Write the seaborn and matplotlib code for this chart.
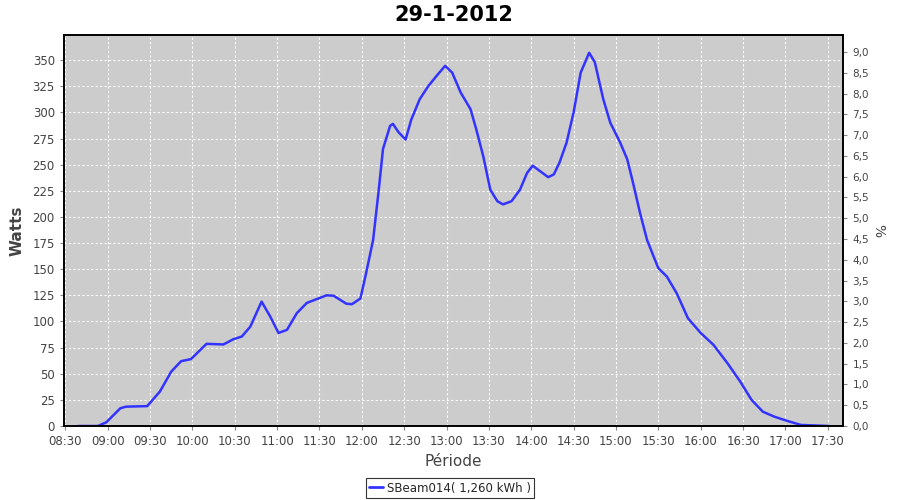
import pandas as pd
import matplotlib
matplotlib.use("Agg")
import matplotlib.pyplot as plt
import matplotlib.dates as mdates
from matplotlib.ticker import FuncFormatter, MultipleLocator
import seaborn as sns

# ----------------------------------------------------------
# Data
# ----------------------------------------------------------

times = [
    "08:39", "08:53", "08:59", "09:09", "09:13", "09:28", "09:37", "09:45",
    "09:52", "09:59", "10:10", "10:22", "10:29", "10:35", "10:41", "10:49",
    "10:55", "11:01", "11:07", "11:14", "11:21", "11:35", "11:40", "11:49",
    "11:53", "11:59", "12:03", "12:08", "12:12", "12:15", "12:20", "12:22",
    "12:26", "12:31", "12:35", "12:41", "12:47", "12:53", "12:59", "13:04",
    "13:10", "13:17", "13:21", "13:26", "13:31", "13:36", "13:40", "13:46",
    "13:52", "13:57", "14:01", "14:06", "14:12", "14:16", "14:20", "14:25",
    "14:30", "14:35", "14:41", "14:45", "14:51", "14:56", "15:03", "15:08",
    "15:12", "15:17", "15:22", "15:27", "15:30", "15:36", "15:43", "15:51",
    "16:00", "16:09", "16:19", "16:28", "16:36", "16:44", "16:52", "17:01",
    "17:11", "17:31",
]
watts = [
    0, 0, 3.5, 17, 18.5, 19, 33, 52,
    62, 64, 78.6, 78, 83, 85.6, 95, 119,
    105, 89, 92, 108, 117.7, 125, 124.6, 117,
    116.5, 122, 146, 178, 226, 265, 287, 289,
    281, 274, 293, 312.6, 325, 335, 344.5, 338,
    319, 303, 284, 258, 226, 215, 212, 215,
    226, 242, 249, 244, 238, 240.7, 252, 271,
    300, 338, 357, 348, 312.6, 290, 271, 255,
    233, 204, 178, 161, 151, 143, 127, 103,
    89, 77.7, 60, 42.5, 25, 13.7, 9, 5,
    1, 0,
]

series_label = "SBeam014( 1,260 kWh )"
title = "29-1-2012"

day = "2012-01-29 "
df = pd.DataFrame({
    "time": pd.to_datetime([day + t for t in times]),
    "watts": watts,
    "serie": series_label,
})

# ----------------------------------------------------------
# Plot
# ----------------------------------------------------------

sns.set_style("white")
plt.rcParams["font.family"] = ["DejaVu Sans"]

fig = plt.figure(figsize=(9, 5), dpi=100)
ax = fig.add_axes([0.071, 0.148, 0.866, 0.782])
ax.set_facecolor("#cccccc")

sns.lineplot(data=df, x="time", y="watts", hue="serie",
             palette=["#3333ff"], linewidth=1.8, ax=ax, legend=False)

ymax = 374
ax.set_xlim(pd.Timestamp(day + "08:29"), pd.Timestamp(day + "17:41"))
ax.set_ylim(0, ymax)
ax.yaxis.set_major_locator(MultipleLocator(25))
ax.xaxis.set_major_locator(mdates.MinuteLocator(byminute=[0, 30]))
ax.xaxis.set_major_formatter(mdates.DateFormatter("%H:%M"))

ax.grid(True, color="white", linestyle=(0, (2, 2)), linewidth=0.8)
for s in ax.spines.values():
    s.set_color("black")
    s.set_linewidth(1.2)

ax.tick_params(axis="both", labelsize=8.5, labelcolor="#444444",
               color="#888888", length=3, direction="out",
               bottom=True, left=True)

ax.set_title(title, fontsize=15, fontweight="bold", color="black", pad=10)
ax.set_xlabel("Période", fontsize=11, color="#444444", labelpad=4)
ax.set_ylabel("Watts", fontsize=11, fontweight="bold", color="#444444", labelpad=6)

ax2 = ax.twinx()
ax2.set_ylim(0, ymax / 39.75)
ax2.yaxis.set_major_locator(MultipleLocator(0.5))
ax2.yaxis.set_major_formatter(FuncFormatter(lambda v, p: f"{v:.1f}".replace(".", ",")))
ax2.tick_params(axis="y", labelsize=7.5, labelcolor="#444444", color="#888888",
                length=3, direction="out", right=True)
ax2.set_ylabel("%", fontsize=10, color="#444444", rotation=270, labelpad=12)
for s in ax2.spines.values():
    s.set_color("black")
    s.set_linewidth(1.2)

handle = plt.Line2D([], [], color="#3333ff", linewidth=2)
leg = fig.legend([handle], [series_label], loc="lower center",
                 bbox_to_anchor=(0.5, -0.008), fontsize=8.5, frameon=True,
                 fancybox=False, handlelength=1.2, handletextpad=0.3,
                 borderpad=0.3)
leg.get_frame().set_edgecolor("black")
leg.get_frame().set_linewidth(0.8)

fig.savefig("out.png", dpi=100)
plt.close(fig)
